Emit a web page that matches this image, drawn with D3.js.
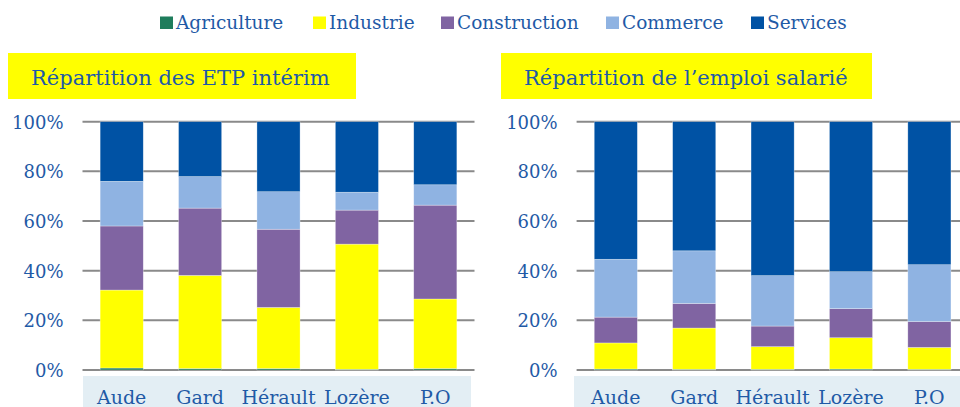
<!DOCTYPE html>
<html>
<head>
<meta charset="utf-8">
<script src="https://cdn.jsdelivr.net/npm/d3@7"></script>
<style>
	body { margin: 0; background: #fff; }
	svg text { font-family: "DejaVu Serif", Georgia, serif; fill: #1f5aa6; }
</style>
</head>
<body>
<div id="chart"></div>
<script>
// Departements and sectors
var departements = ["Aude", "Gard", "Hérault", "Lozère", "P.O"];
var secteurs = ["Agriculture", "Industrie", "Construction", "Commerce", "Services"];
var couleurs = ["#1f7d5c", "#ffff00", "#8064a2", "#8fb3e2", "#0052a4"];
var yTicks = [0, 20, 40, 60, 80, 100];

// Shares (%), one array per sector
var etpAgriculture  = [0.8, 0.6, 0.6, 0.3, 0.6];
var etpIndustrie    = [31.4, 37.5, 24.6, 50.4, 28.0];
var etpConstruction = [25.8, 27.1, 31.5, 13.7, 37.8];
var etpCommerce     = [18.0, 12.7, 15.1, 7.2, 8.2];
var etpServices     = [24.0, 22.1, 28.2, 28.4, 25.4];

var salAgriculture  = [0.4, 0.3, 0.3, 0.4, 0.3];
var salIndustrie    = [10.5, 16.6, 9.1, 12.6, 8.8];
var salConstruction = [10.4, 9.9, 8.3, 11.7, 10.4];
var salCommerce     = [23.3, 21.2, 20.3, 14.9, 22.9];
var salServices     = [55.4, 52.0, 62.0, 60.4, 57.6];

function buildRows(series) {
	return departements.map(function(d, i) {
		var row = {dep: d};
		secteurs.forEach(function(s, j) { row[s] = series[j][i]; });
		return row;
	});
}

var width = 960, height = 407;
var svg = d3.select("#chart").append("svg")
	.attr("width", width)
	.attr("height", height);

// Legend
var legendX = [160, 313, 441, 606, 751];
var legend = svg.append("g");
secteurs.forEach(function(s, i) {
	legend.append("rect")
		.attr("x", legendX[i]).attr("y", 16.5)
		.attr("width", 13).attr("height", 12.5)
		.attr("fill", couleurs[i]);
	legend.append("text")
		.attr("x", legendX[i] + 16).attr("y", 29)
		.attr("font-size", 18.5)
		.text(s);
});

function drawPanel(opts) {
	var rows = buildRows(opts.series);
	var stack = d3.stack().keys(secteurs);
	var layers = stack(rows);

	var x = d3.scaleBand()
		.domain(departements)
		.range([opts.x0, opts.x0 + 392])
		.paddingInner(0.45)
		.paddingOuter(0.225);
	var y = d3.scaleLinear().domain([0, 100]).range([370, 121.7]);

	var g = svg.append("g");

	// title box
	g.append("rect")
		.attr("x", opts.boxX).attr("y", 53)
		.attr("width", opts.boxW).attr("height", 46)
		.attr("fill", "#ffff00");
	g.append("text")
		.attr("x", opts.titleX).attr("y", 85)
		.attr("font-size", 21)
		.text(opts.title);

	// category band
	g.append("rect")
		.attr("x", opts.bandX).attr("y", 376)
		.attr("width", opts.bandW).attr("height", 31)
		.attr("fill", "#e3eef4");

	// gridlines
	g.selectAll("line.grid")
		.data(yTicks)
		.enter().append("line")
		.attr("class", "grid")
		.attr("x1", opts.x0).attr("x2", Math.min(opts.x0 + 392, 960))
		.attr("y1", function(d) { return y(d); })
		.attr("y2", function(d) { return y(d); })
		.attr("stroke", "#8a8a8a")
		.attr("stroke-width", 2);

	// y labels
	g.selectAll("text.ytick")
		.data(yTicks)
		.enter().append("text")
		.attr("class", "ytick")
		.attr("x", opts.x0 - 19)
		.attr("y", function(d) { return y(d) + 7; })
		.attr("text-anchor", "end")
		.attr("font-size", 18)
		.text(function(d) { return d + "%"; });

	// bars
	g.selectAll("g.layer")
		.data(layers)
		.enter().append("g")
		.attr("class", "layer")
		.attr("fill", function(d, i) { return couleurs[i]; })
		.selectAll("rect")
		.data(function(d) { return d; })
		.enter().append("rect")
		.attr("x", function(d) { return x(d.data.dep); })
		.attr("width", x.bandwidth())
		.attr("y", function(d) { return y(d[1]); })
		.attr("height", function(d) { return y(d[0]) - y(d[1]); })
		.attr("stroke", "#ffffff")
		.attr("stroke-opacity", 0.5)
		.attr("stroke-width", 0.6);

	// category labels
	g.selectAll("text.cat")
		.data(departements)
		.enter().append("text")
		.attr("class", "cat")
		.attr("x", function(d) { return x(d) + x.bandwidth() / 2; })
		.attr("y", 404)
		.attr("text-anchor", "middle")
		.attr("font-size", 19)
		.text(function(d) { return d; });
}

drawPanel({
	series: [etpAgriculture, etpIndustrie, etpConstruction, etpCommerce, etpServices],
	x0: 82.5, boxX: 8, boxW: 348, titleX: 31, bandX: 83, bandW: 388,
	title: "Répartition des ETP intérim"
});
drawPanel({
	series: [salAgriculture, salIndustrie, salConstruction, salCommerce, salServices],
	x0: 576.6, boxX: 501, boxW: 371, titleX: 524, bandX: 574, bandW: 386,
	title: "Répartition de l’emploi salarié"
});
</script>
</body>
</html>
